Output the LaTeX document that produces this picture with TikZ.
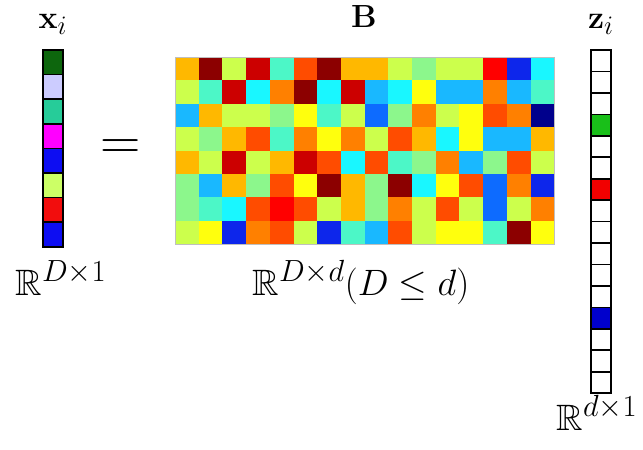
\documentclass[tikz,border=0pt]{standalone}
\usepackage{amsmath,amsfonts,amssymb}
\usepackage{tikz}
\definecolor{jetN}{rgb}{0,0,0.55}
\definecolor{jetB}{rgb}{0.05,0.15,0.92}
\definecolor{jetD}{rgb}{0.05,0.42,1}
\definecolor{jetS}{rgb}{0.1,0.72,1}
\definecolor{jetC}{rgb}{0.1,0.97,1}
\definecolor{jetA}{rgb}{0.3,0.97,0.78}
\definecolor{jetL}{rgb}{0.55,0.97,0.55}
\definecolor{jetG}{rgb}{0.8,1,0.3}
\definecolor{jetY}{rgb}{1,1,0.05}
\definecolor{jetM}{rgb}{1,0.72,0}
\definecolor{jetO}{rgb}{1,0.5,0}
\definecolor{jetQ}{rgb}{1,0.3,0}
\definecolor{jetR}{rgb}{1,0,0}
\definecolor{jetK}{rgb}{0.8,0,0}
\definecolor{jetX}{rgb}{0.55,0,0}
\definecolor{xdgreen}{rgb}{0.05,0.4,0.05}
\definecolor{xlav}{rgb}{0.8,0.8,1}
\definecolor{xteal}{rgb}{0.15,0.8,0.6}
\definecolor{xmag}{rgb}{1,0,1}
\definecolor{xblue}{rgb}{0.05,0.05,0.95}
\definecolor{xlime}{rgb}{0.8,1,0.4}
\definecolor{xred}{rgb}{0.95,0.05,0.05}
\definecolor{zgreen}{rgb}{0.1,0.75,0.1}
\definecolor{zred}{rgb}{0.95,0,0}
\definecolor{zblue}{rgb}{0,0,0.8}
\tikzset{
  cell/.style={line width=1.3pt,draw=black},
  toplbl/.style={font=\Huge,inner sep=0pt,anchor=base,scale=1.03},
  dimlbl/.style={font=\Huge,inner sep=0pt,anchor=base,scale=1.18},
}

\begin{document}
\begin{tikzpicture}[x=0.8pt,y=-0.8pt]
    \useasboundingbox (0,0) rectangle (643,449) ;
    \foreach \row [count=\r from 0] in {
      {M,X,G,K,A,Q,X,M,M,G,L,G,G,R,B,C},
      {G,A,K,C,O,X,C,K,S,C,Y,S,S,O,S,A},
      {S,M,G,G,L,Y,A,G,D,L,O,G,Y,Q,O,N},
      {G,L,M,Q,A,O,Y,O,G,Q,M,C,Y,S,S,M},
      {M,G,K,G,M,K,Q,C,Q,A,L,O,S,L,Q,G},
      {L,S,M,L,Q,Y,X,M,L,X,C,Y,Q,D,O,B},
      {L,A,C,Q,R,Q,G,M,L,O,G,Q,G,D,G,O},
      {G,Y,B,O,Q,G,B,A,S,Q,G,Y,Y,A,X,Y}} {
      \foreach \c [count=\k from 0] in \row {
        \fill[jet\c] ({175+23.7*\k},{57+23.4*\r}) rectangle +(23.7,23.4) ;
      }
    }
    \draw[gray!50, thin] (175,57) rectangle (554.2,244.2) ;
    \foreach \c [count=\k from 0] in {xdgreen,xlav,xteal,xmag,xblue,xlime,xred,xblue} {
      \filldraw[cell,fill=\c] (43,{50+24.6*\k}) rectangle +(20,24.6) ;
    }
    \foreach \c [count=\k from 0] in {white,white,white,zgreen,white,white,zred,white,
      white,white,white,white,zblue,white,white,white} {
      \filldraw[cell,fill=\c] (591,{50+21.45*\k}) rectangle +(20,21.45) ;
    }
    \node[toplbl] (xi) at (53,28) {$\mathbf{x}_i$} ;
    \node[toplbl] (Bm) at (364,27) {$\mathbf{B}$} ;
    \node[toplbl] (zi) at (601,28) {$\mathbf{z}_i$} ;
    \node[font=\Huge,inner sep=0pt,scale=1.8] (eq) at (121,150) {$=$} ;
    \node[dimlbl] (xdim) at (61,295) {$\mathbb{R}^{D\times 1}$} ;
    \node[dimlbl] (Bdim) at (361,295) {$\mathbb{R}^{D\times d}(D\leq d)$} ;
    \node[dimlbl] (zdim) at (597,430) {$\mathbb{R}^{d\times 1}$} ;
  \end{tikzpicture}
\end{document}
